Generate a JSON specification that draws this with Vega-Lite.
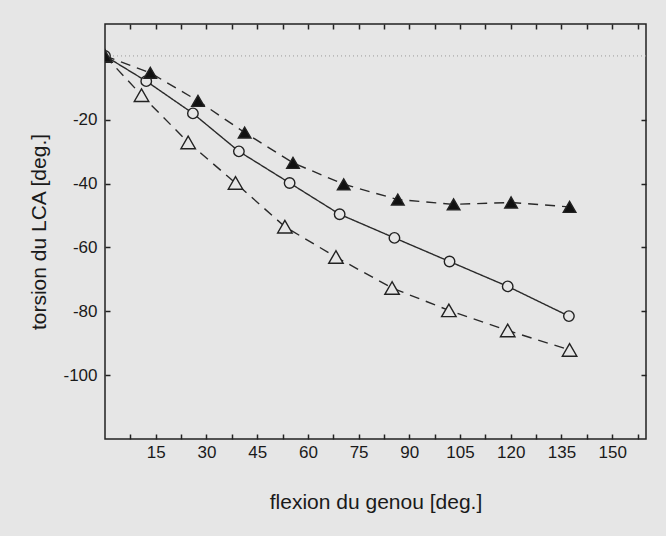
{
  "$schema": "https://vega.github.io/schema/vega-lite/v6.json",
  "width": 541,
  "height": 415,
  "autosize": {"type": "none"},
  "padding": {"left": 105, "top": 24, "right": 20, "bottom": 97},
  "background": "#e6e6e6",
  "config": {
    "view": {"stroke": "#222222", "strokeWidth": 1.5},
    "font": "Liberation Sans",
    "axis": {
      "domain": false,
      "grid": false,
      "tickColor": "#222222",
      "tickWidth": 1.5,
      "labelColor": "#1a1a1a",
      "titleColor": "#1a1a1a",
      "labelFont": "Liberation Sans",
      "titleFont": "Liberation Sans",
      "labelFontSize": 17,
      "titleFontSize": 21,
      "titleFontWeight": "normal"
    }
  },
  "data": {
    "values": [
      {"series": "tri_open", "x": 0, "y": 0},
      {"series": "tri_open", "x": 10.8, "y": -12.3},
      {"series": "tri_open", "x": 24.6, "y": -27.1},
      {"series": "tri_open", "x": 38.6, "y": -39.8},
      {"series": "tri_open", "x": 53.2, "y": -53.5},
      {"series": "tri_open", "x": 68.3, "y": -63},
      {"series": "tri_open", "x": 84.9, "y": -72.7},
      {"series": "tri_open", "x": 101.7, "y": -79.7},
      {"series": "tri_open", "x": 119.1, "y": -86},
      {"series": "tri_open", "x": 137.4, "y": -92.1},
      {"series": "circ", "x": 0, "y": 0},
      {"series": "circ", "x": 12.2, "y": -7.9},
      {"series": "circ", "x": 26, "y": -18},
      {"series": "circ", "x": 39.6, "y": -29.9},
      {"series": "circ", "x": 54.6, "y": -39.8},
      {"series": "circ", "x": 69.4, "y": -49.6},
      {"series": "circ", "x": 85.6, "y": -57},
      {"series": "circ", "x": 101.9, "y": -64.4},
      {"series": "circ", "x": 119.1, "y": -72.2},
      {"series": "circ", "x": 137.2, "y": -81.5},
      {"series": "tri_fill", "x": 0, "y": 0},
      {"series": "tri_fill", "x": 13.4, "y": -5.3},
      {"series": "tri_fill", "x": 27.5, "y": -14.1},
      {"series": "tri_fill", "x": 41.3, "y": -24},
      {"series": "tri_fill", "x": 55.6, "y": -33.5},
      {"series": "tri_fill", "x": 70.6, "y": -40.2},
      {"series": "tri_fill", "x": 86.6, "y": -45},
      {"series": "tri_fill", "x": 103.1, "y": -46.5},
      {"series": "tri_fill", "x": 120.1, "y": -45.9},
      {"series": "tri_fill", "x": 137.4, "y": -47.3}
    ]
  },
  "layer": [
    {
      "data": {"values": [{"zero": 0}]},
      "mark": {"type": "rule", "color": "#9a9a9a", "strokeWidth": 1, "strokeDash": [1, 3]},
      "encoding": {
        "y": {"field": "zero", "type": "quantitative", "scale": {"domain": [-120, 10], "nice": false, "zero": false}, "axis": null}
      }
    },
    {
      "mark": {"type": "line", "color": "#2a2a2a", "strokeWidth": 1.4, "clip": true},
      "encoding": {
        "x": {
          "field": "x", "type": "quantitative",
          "scale": {"domain": [0, 160], "nice": false, "zero": false},
          "axis": {"orient": "top", "title": null, "labels": false, "values": [7.5, 15, 22.5, 30, 37.5, 45, 52.5, 60, 67.5, 75, 82.5, 90, 97.5, 105, 112.5, 120, 127.5, 135, 142.5, 150, 157.5], "tickSize": -5}
        },
        "y": {
          "field": "y", "type": "quantitative",
          "scale": {"domain": [-120, 10], "nice": false, "zero": false},
          "axis": {"orient": "right", "title": null, "labels": false, "values": [-100, -80, -60, -40, -20], "tickSize": -5}
        },
        "detail": {"field": "series"},
        "strokeDash": {
          "field": "series", "type": "nominal",
          "scale": {"domain": ["circ", "tri_fill", "tri_open"], "range": [[1, 0], [10, 7], [10, 7]]},
          "legend": null
        }
      }
    },
    {
      "mark": {"type": "point", "filled": true, "stroke": "#222222", "strokeWidth": 1.4, "opacity": 1, "clip": true},
      "encoding": {
        "x": {
          "field": "x", "type": "quantitative",
          "scale": {"domain": [0, 160], "nice": false, "zero": false},
          "axis": {"orient": "bottom", "title": "flexion du genou [deg.]", "values": [7.5, 15, 22.5, 30, 37.5, 45, 52.5, 60, 67.5, 75, 82.5, 90, 97.5, 105, 112.5, 120, 127.5, 135, 142.5, 150, 157.5], "labelExpr": "datum.value % 15 == 0 ? toString(datum.value) : ''", "tickSize": -5, "labelPadding": 10, "titlePadding": 31, "labelFlush": false, "labelOverlap": false}
        },
        "y": {
          "field": "y", "type": "quantitative",
          "scale": {"domain": [-120, 10], "nice": false, "zero": false},
          "axis": {"orient": "left", "title": "torsion du LCA [deg.]", "values": [-100, -80, -60, -40, -20], "labelExpr": "toString(datum.value)", "tickSize": -5, "labelPadding": 13, "titlePadding": 13, "labelFlush": false}
        },
        "shape": {
          "field": "series", "type": "nominal",
          "scale": {"domain": ["circ", "tri_fill", "tri_open"], "range": ["circle", "triangle-up", "triangle-up"]},
          "legend": null
        },
        "fill": {
          "field": "series", "type": "nominal",
          "scale": {"domain": ["circ", "tri_fill", "tri_open"], "range": ["#e6e6e6", "#111111", "#e6e6e6"]},
          "legend": null
        },
        "size": {
          "field": "series", "type": "ordinal",
          "scale": {"domain": ["circ", "tri_fill", "tri_open"], "range": [110, 210, 210]},
          "legend": null
        }
      }
    }
  ],
  "resolve": {"axis": {"x": "independent", "y": "independent"}}
}
